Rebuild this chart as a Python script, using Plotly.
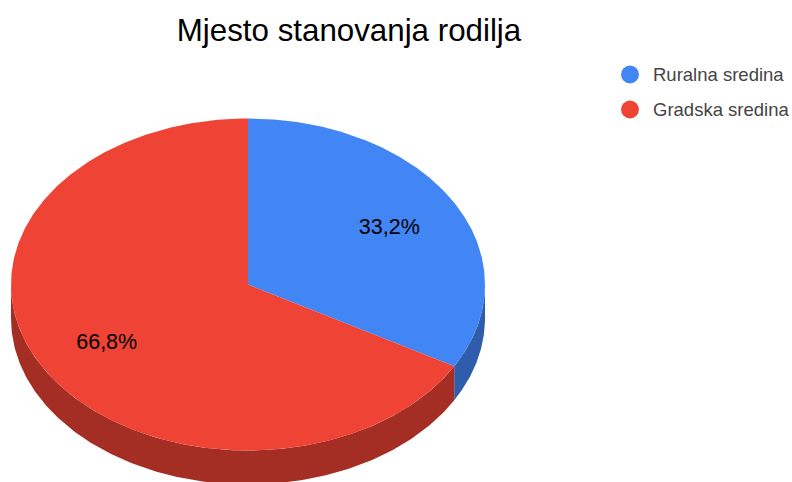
import numpy as np
import plotly.graph_objects as go

title = "Mjesto stanovanja rodilja"
categories = ["Ruralna sredina", "Gradska sredina"]
values = [33.2, 66.8]
labels = ["33,2%", "66,8%"]
top_colors = ["#4285F4", "#EE4335"]
side_colors = ["#2F5DAB", "#A52E24"]

W, H = 792, 482
CX, CY, RX, RY, DEPTH = 248, 284.5, 237, 166, 34
LABEL_FRAC = 0.69
LABEL_DY = 1.5
LEGEND_X, LEGEND_TEXT_X = 630, 653
LEGEND_Y = [74.5, 109.5]
LEGEND_TEXT_Y = [76, 111]


def ex(a):
    return CX + RX * np.sin(a)


def ey(a):
    return CY - RY * np.cos(a)


fractions = np.array(values) / sum(values)
edges = np.concatenate([[0], np.cumsum(fractions)]) * 2 * np.pi

fig = go.Figure()

# extruded rim of each slice (front half only)
for i in range(len(values)):
    a0 = max(edges[i], np.pi / 2)
    a1 = min(edges[i + 1], 3 * np.pi / 2)
    if a1 > a0:
        a = np.linspace(a0, a1, 200)
        x = np.concatenate([ex(a), ex(a[::-1])])
        y = np.concatenate([ey(a), ey(a[::-1]) + DEPTH])
        fig.add_trace(go.Scatter(x=x, y=y, mode="lines", fill="toself",
                                 fillcolor=side_colors[i], line=dict(width=0),
                                 hoverinfo="skip", showlegend=False))

# top face of each slice
for i, name in enumerate(categories):
    a = np.linspace(edges[i], edges[i + 1], 400)
    x = np.concatenate([[CX], ex(a), [CX]])
    y = np.concatenate([[CY], ey(a), [CY]])
    fig.add_trace(go.Scatter(x=x, y=y, mode="lines", fill="toself",
                             fillcolor=top_colors[i], line=dict(width=0),
                             name=name, showlegend=False))

# slice labels
mid = (edges[:-1] + edges[1:]) / 2
fig.add_trace(go.Scatter(
    x=CX + LABEL_FRAC * RX * np.sin(mid),
    y=CY - LABEL_FRAC * RY * np.cos(mid) + LABEL_DY,
    mode="text", text=labels, textposition="middle center",
    textfont=dict(family="Liberation Sans", size=21.5, color="#000000"),
    hoverinfo="skip", showlegend=False))

# legend
fig.add_trace(go.Scatter(
    x=[LEGEND_X] * len(categories), y=LEGEND_Y, mode="markers",
    marker=dict(size=18, color=top_colors, line=dict(width=0)),
    hoverinfo="skip", showlegend=False))
fig.add_trace(go.Scatter(
    x=[LEGEND_TEXT_X] * len(categories), y=LEGEND_TEXT_Y, mode="text",
    text=categories, textposition="middle right",
    textfont=dict(family="Liberation Sans", size=18.5, color="#444444"),
    hoverinfo="skip", showlegend=False, cliponaxis=False))

fig.update_layout(
    width=W, height=H, margin=dict(l=0, r=0, t=0, b=0),
    paper_bgcolor="white", plot_bgcolor="white",
    title=dict(text=title, x=349 / W, xanchor="center", y=1 - 30 / H, yanchor="middle",
               font=dict(family="Liberation Sans", size=31.3, color="#000000")),
    xaxis=dict(range=[0, W], visible=False, fixedrange=True),
    yaxis=dict(range=[H, 0], visible=False, fixedrange=True),
)

fig.write_html("out.html", config={"displayModeBar": False},
               post_script="document.body.style.margin='0';document.body.style.overflow='hidden';")
